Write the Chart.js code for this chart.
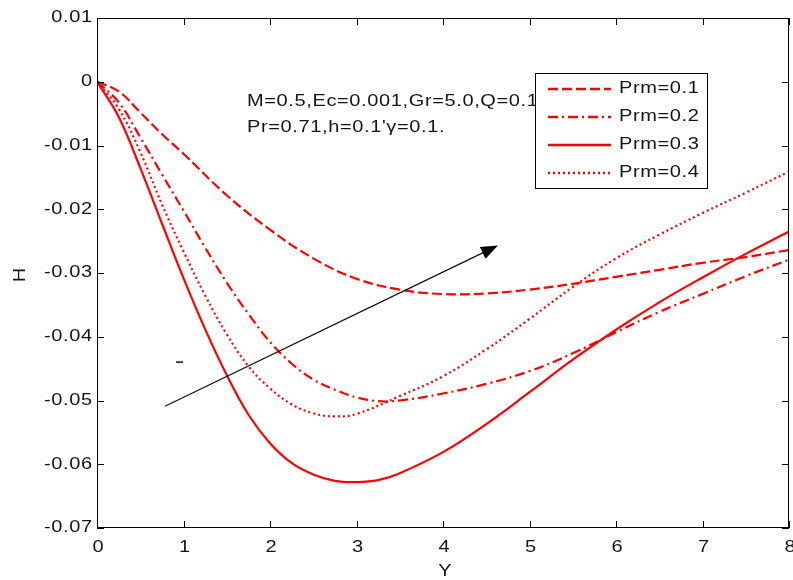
<!DOCTYPE html>
<html><head><meta charset="utf-8">
<script src="https://cdn.jsdelivr.net/npm/chart.js@4/dist/chart.umd.min.js"></script>
<style>html,body{margin:0;padding:0;background:#fff;}canvas{display:block;}</style>
</head><body>
<canvas id="c" width="793" height="580"></canvas>
<script>
// ---- data ----
const xTicks = [0, 1, 2, 3, 4, 5, 6, 7, 8];
const xTickLabels = ['0', '1', '2', '3', '4', '5', '6', '7', '8'];
const yTicks = [0.01, 0, -0.01, -0.02, -0.03, -0.04, -0.05, -0.06, -0.07];
const yTickLabels = ['0.01', '0', '-0.01', '-0.02', '-0.03', '-0.04', '-0.05', '-0.06', '-0.07'];
const seriesNames = ['Prm=0.1', 'Prm=0.2', 'Prm=0.3', 'Prm=0.4'];

const xPrm01 = [0, 0.25, 0.5, 0.75, 1, 1.5, 2, 2.5, 3, 3.5, 4, 4.5, 5, 5.5, 6, 6.5, 7, 7.5, 8];
const yPrm01 = [0, -0.0015, -0.0048, -0.0082, -0.0113, -0.0178, -0.0232, -0.0277, -0.0309, -0.0326, -0.0333, -0.0332, -0.0326, -0.0317, -0.0306, -0.0295, -0.0284, -0.0275, -0.0264];

const xPrm02 = [0, 0.25, 0.5, 0.75, 1, 1.25, 1.5, 1.75, 2, 2.25, 2.5, 2.75, 3, 3.25, 3.5, 4, 4.5, 5, 5.5, 6, 6.5, 7, 7.5, 8];
const yPrm02 = [0, -0.0032, -0.0087, -0.0145, -0.0202, -0.026, -0.0315, -0.0364, -0.0408, -0.0442, -0.0467, -0.0483, -0.0495, -0.0501, -0.0500, -0.0489, -0.0474, -0.0454, -0.0426, -0.0393, -0.0361, -0.0333, -0.0305, -0.0279];

const xPrm03 = [0, 0.25, 0.5, 0.75, 1, 1.25, 1.5, 1.75, 2, 2.25, 2.5, 2.75, 3, 3.25, 3.5, 4, 4.5, 5, 5.5, 6, 6.5, 7, 7.5, 8];
const yPrm03 = [0, -0.0055, -0.0135, -0.0222, -0.0308, -0.0388, -0.0460, -0.0522, -0.0567, -0.0598, -0.0616, -0.0626, -0.0628, -0.0625, -0.0614, -0.0581, -0.0537, -0.0487, -0.0436, -0.0389, -0.0346, -0.0307, -0.0270, -0.0235];

const xPrm04 = [0, 0.25, 0.5, 0.75, 1, 1.25, 1.5, 1.75, 2, 2.25, 2.5, 2.75, 3, 3.5, 4, 4.5, 5, 5.5, 6, 6.5, 7, 7.5, 8];
const yPrm04 = [0, -0.0042, -0.0110, -0.0192, -0.0266, -0.0335, -0.0396, -0.0446, -0.0481, -0.0506, -0.0520, -0.0525, -0.0521, -0.0493, -0.0462, -0.0420, -0.0372, -0.0322, -0.0277, -0.0240, -0.0206, -0.0174, -0.0141];

const annotationLines = ['M=0.5,Ec=0.001,Gr=5.0,Q=0.1', "Pr=0.71,h=0.1'\u03B3=0.1."];
const arrowFrom = [0.786, -0.0509];
const arrowTo = [4.636, -0.02567];
const strayMark = [[0.913, -0.04398], [0.994, -0.04398]];
const xTitle = 'Y';
const yTitle = 'H';

// ---- chart ----
const RED = '#ff0000';
function pts(xs, ys) { return xs.map((x, i) => ({ x: x, y: ys[i] })); }
const dashStyles = [[10, 4], [10, 4, 2, 4], [], [2, 3]];
const seriesX = [xPrm01, xPrm02, xPrm03, xPrm04];
const seriesY = [yPrm01, yPrm02, yPrm03, yPrm04];

const datasets = seriesNames.map((name, i) => ({
  label: name,
  data: pts(seriesX[i], seriesY[i]),
  borderColor: RED,
  backgroundColor: RED,
  borderWidth: 2.2,
  borderDash: dashStyles[i],
  pointRadius: 0,
  showLine: true,
  fill: false,
  tension: 0.4
}));

const FONT = "'Liberation Sans', Arial, sans-serif";
const TXT = '#141414';
const HS = 1.25;   // horizontal stretch of the reference's text
const SP = 0.5;    // letter spacing

function drawText(ctx, s, x, y, size, align) {
  ctx.save();
  ctx.font = size + 'px ' + FONT;
  ctx.fillStyle = TXT;
  ctx.textBaseline = 'middle';
  ctx.letterSpacing = SP + 'px';
  const w = (ctx.measureText(s).width - SP) * HS;
  let sx = x;
  if (align === 'right') sx = x - w;
  else if (align === 'center') sx = x - w / 2;
  ctx.translate(sx, y);
  ctx.scale(HS, 1);
  ctx.textAlign = 'left';
  ctx.fillText(s, 0, 0);
  ctx.restore();
}

const decor = {
  id: 'decor',
  afterDatasetsDraw(chart) {
    const ctx = chart.ctx;
    const a = chart.chartArea;
    const xs = chart.scales.x, ys = chart.scales.y;
    ctx.save();
    // frame
    ctx.strokeStyle = '#000';
    ctx.lineWidth = 1;
    ctx.strokeRect(a.left + 0.5, a.top + 0.5, a.right - a.left - 1, a.bottom - a.top - 1);
    // ticks inward
    const TL = 7;
    ctx.beginPath();
    xs.ticks.forEach(t => {
      const px = Math.round(xs.getPixelForValue(t.value)) + 0.5;
      ctx.moveTo(px, a.bottom); ctx.lineTo(px, a.bottom - TL);
      ctx.moveTo(px, a.top); ctx.lineTo(px, a.top + TL);
    });
    ys.ticks.forEach(t => {
      const py = Math.round(ys.getPixelForValue(t.value)) + 0.5;
      ctx.moveTo(a.left, py); ctx.lineTo(a.left + TL, py);
      ctx.moveTo(a.right, py); ctx.lineTo(a.right - TL, py);
    });
    ctx.stroke();
    // tick labels
    xs.ticks.forEach(t => {
      const px = xs.getPixelForValue(t.value);
      drawText(ctx, xTickLabels[xTicks.indexOf(t.value)], px + 1, a.bottom + 20, 16, 'center');
    });
    ys.ticks.forEach(t => {
      const py = ys.getPixelForValue(t.value);
      drawText(ctx, yTickLabels[yTicks.indexOf(t.value)], a.left - 5, py, 16, 'right');
    });
    // axis titles
    drawText(ctx, xTitle, (a.left + a.right) / 2 + 2, a.bottom + 44, 16, 'center');
    ctx.save();
    ctx.translate(21, (a.top + a.bottom) / 2 + 2);
    ctx.rotate(-Math.PI / 2);
    drawText(ctx, yTitle, 0, 0, 16, 'center');
    ctx.restore();

    // annotation text
    drawText(ctx, annotationLines[0], 247, 102, 16, 'left');
    drawText(ctx, annotationLines[1], 247, 128, 16, 'left');

    // arrow
    const x0 = xs.getPixelForValue(arrowFrom[0]), y0 = ys.getPixelForValue(arrowFrom[1]);
    const x1 = xs.getPixelForValue(arrowTo[0]), y1 = ys.getPixelForValue(arrowTo[1]);
    const ang = Math.atan2(y1 - y0, x1 - x0);
    const HL = 17, HW = 6.5;
    const bx = x1 - HL * Math.cos(ang), by = y1 - HL * Math.sin(ang);
    ctx.strokeStyle = '#111';
    ctx.lineWidth = 1.3;
    ctx.beginPath(); ctx.moveTo(x0, y0); ctx.lineTo(bx + 4 * Math.cos(ang), by + 4 * Math.sin(ang)); ctx.stroke();
    ctx.fillStyle = '#000';
    ctx.beginPath();
    ctx.moveTo(x1, y1);
    ctx.lineTo(bx + HW * Math.sin(ang), by - HW * Math.cos(ang));
    ctx.lineTo(bx - HW * Math.sin(ang), by + HW * Math.cos(ang));
    ctx.closePath(); ctx.fill();
    // stray mark
    ctx.lineWidth = 1.5;
    ctx.beginPath();
    ctx.moveTo(xs.getPixelForValue(strayMark[0][0]), ys.getPixelForValue(strayMark[0][1]));
    ctx.lineTo(xs.getPixelForValue(strayMark[1][0]), ys.getPixelForValue(strayMark[1][1]));
    ctx.stroke();

    // legend
    const L = { x: 535, y: 73, w: 172, h: 115 };
    ctx.fillStyle = '#fff';
    ctx.fillRect(L.x, L.y, L.w, L.h);
    ctx.strokeStyle = '#000';
    ctx.lineWidth = 1;
    ctx.strokeRect(L.x + 0.5, L.y + 0.5, L.w, L.h);
    const rows = [89, 117, 145, 173];
    chart.data.datasets.forEach((ds, i) => {
      ctx.save();
      ctx.strokeStyle = ds.borderColor;
      ctx.lineWidth = 2.6;
      ctx.setLineDash(ds.borderDash || []);
      ctx.beginPath();
      ctx.moveTo(548, rows[i]); ctx.lineTo(611, rows[i]);
      ctx.stroke();
      ctx.restore();
      drawText(ctx, ds.label, 619, rows[i], 16, 'left');
    });
    ctx.restore();
  }
};

new Chart(document.getElementById('c'), {
  type: 'scatter',
  data: { datasets: datasets },
  options: {
    responsive: false,
    animation: false,
    devicePixelRatio: 1,
    layout: { padding: { top: 18, right: 4, left: 0, bottom: 0 } },
    plugins: { legend: { display: false }, tooltip: { enabled: false } },
    scales: {
      x: {
        type: 'linear', min: 0, max: 8,
        grid: { display: false, drawTicks: false },
        border: { display: false },
        ticks: { display: false },
        afterBuildTicks: s => { s.ticks = xTicks.map(v => ({ value: v })); },
        afterFit: s => { s.height = 52; }
      },
      y: {
        type: 'linear', min: -0.07, max: 0.01,
        grid: { display: false, drawTicks: false },
        border: { display: false },
        ticks: { display: false },
        afterBuildTicks: s => { s.ticks = yTicks.map(v => ({ value: v })); },
        afterFit: s => { s.width = 97; }
      }
    }
  },
  plugins: [decor]
});
</script>
</body></html>
